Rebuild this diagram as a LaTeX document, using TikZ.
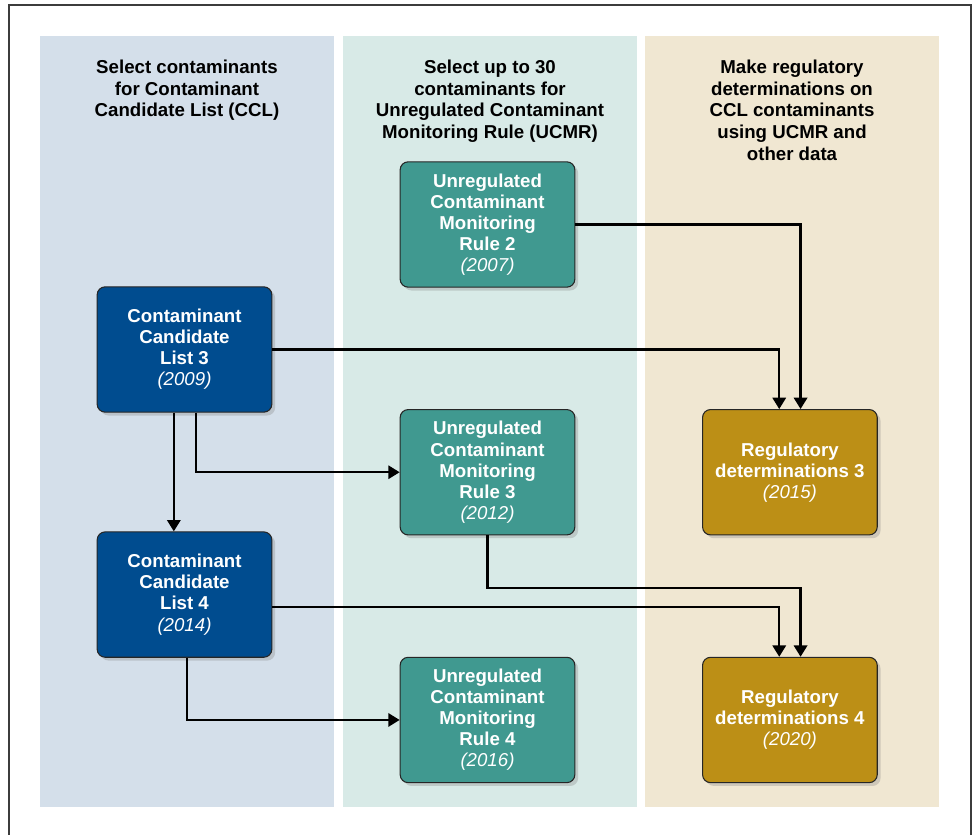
\documentclass[tikz,border=0pt]{standalone}
\usepackage{fontspec}
\setmainfont{Liberation Sans}
\usetikzlibrary{arrows.meta,positioning,shadows}

\definecolor{cclblue}{RGB}{0,76,143}
\definecolor{ucmrteal}{RGB}{64,153,144}
\definecolor{rdgold}{RGB}{188,143,22}
\definecolor{cclback}{RGB}{212,223,234}
\definecolor{ucmrback}{RGB}{216,234,231}
\definecolor{rdback}{RGB}{240,231,210}
\definecolor{framegray}{RGB}{60,60,60}

\begin{document}
\begin{tikzpicture}[
    x=0.75pt, y=-0.75pt,
    node distance=91pt and 95pt,
    heading/.style={anchor=north, align=center, inner sep=0pt, font=\fontsize{14}{16.2}\selectfont\bfseries},
    box/.style={rectangle, draw=black!85, line width=0.8pt, rounded corners=6pt, minimum width=131pt, minimum height=94pt, align=center, text=white, font=\fontsize{14}{15.8}\selectfont\bfseries, drop shadow={shadow xshift=2.5pt, shadow yshift=-2.5pt, opacity=0.3}},
    ccl/.style={box, fill=cclblue},
    ucmr/.style={box, fill=ucmrteal},
    regdet/.style={box, fill=rdgold},
    flow/.style={-{Triangle[length=8.5pt, width=10pt]}, line width=1.7pt}
]
\useasboundingbox (0,0) rectangle (975,835);

% Outer frame
\draw[framegray, line width=0.8pt] (9,840) -- (9,5) -- (971,5) -- (971,840);

% Column backgrounds
\fill[cclback] (40,36) rectangle (334,807);
\fill[ucmrback] (343,36) rectangle (637,807);
\fill[rdback] (645,36) rectangle (939,807);

% Column headings
\node[heading] (headccl) at (187,60) {Select contaminants\\for Contaminant\\Candidate List (CCL)};
\node[heading] (headucmr) at (490,60) {Select up to 30\\contaminants for\\Unregulated Contaminant\\Monitoring Rule (UCMR)};
\node[heading] (headrd) at (792,60) {Make regulatory\\determinations on\\CCL contaminants\\using UCMR and\\other data};

% UCMR column
\node[ucmr] (ucmr2) at (487.5,224.5) {Unregulated\\Contaminant\\Monitoring\\Rule 2\\\normalfont\itshape (2007)};
\node[ucmr, below=of ucmr2] (ucmr3) {Unregulated\\Contaminant\\Monitoring\\Rule 3\\\normalfont\itshape (2012)};
\node[ucmr, below=of ucmr3] (ucmr4) {Unregulated\\Contaminant\\Monitoring\\Rule 4\\\normalfont\itshape (2016)};

% Regulatory determinations
\node[regdet, right=of ucmr3] (rd3) {Regulatory\\determinations 3\\\normalfont\itshape (2015)};
\node[regdet, right=of ucmr4] (rd4) {Regulatory\\determinations 4\\\normalfont\itshape (2020)};

% CCL column
\node[ccl] (ccl3) at (184.5,349.5) {Contaminant\\Candidate\\List 3\\\normalfont\itshape (2009)};
\node[ccl, below=89pt of ccl3] (ccl4) {Contaminant\\Candidate\\List 4\\\normalfont\itshape (2014)};

% Connectors
\draw[flow] (ccl3.east) -| ([xshift=-8pt]rd3.north);
\draw[flow] (ucmr2.east) -| ([xshift=8pt]rd3.north);
\draw[flow] ([xshift=-8pt]ccl3.south) -- ([xshift=-8pt]ccl4.north);
\draw[flow] ([xshift=8.5pt]ccl3.south) |- (ucmr3.west);
\draw[flow] (ucmr3.south) -- ++(0pt,-39.5pt) -| ([xshift=8pt]rd4.north);
\draw[flow] ([yshift=-9.5pt]ccl4.east) -| ([xshift=-8pt]rd4.north);
\draw[flow] ([xshift=2pt]ccl4.south) |- (ucmr4.west);

\end{tikzpicture}
\end{document}
